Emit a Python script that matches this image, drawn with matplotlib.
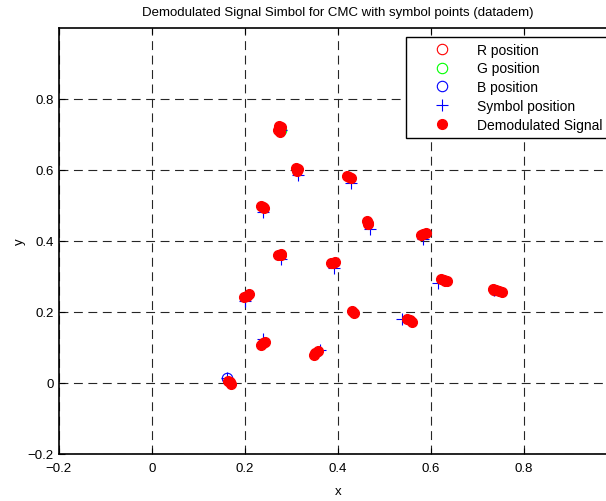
import numpy as np
import matplotlib
matplotlib.use('Agg')
import matplotlib.pyplot as plt

plt.rcParams['font.family'] = ['Liberation Sans', 'DejaVu Sans']

# corner colours (R, G, B) in xy
r_pos = (0.737, 0.263)
g_pos = (0.278, 0.714)
b_pos = (0.163, 0.013)

# symbol points
sym_x = [0.278, 0.314, 0.429, 0.239, 0.469, 0.583, 0.278, 0.392,
         0.616, 0.737, 0.201, 0.433, 0.539, 0.240, 0.361, 0.163]
sym_y = [0.714, 0.585, 0.563, 0.482, 0.435, 0.405, 0.349, 0.325,
         0.283, 0.263, 0.232, 0.199, 0.180, 0.124, 0.094, 0.013]

dem_x = [0.274, 0.278, 0.272, 0.275,
         0.310, 0.315, 0.313,
         0.235, 0.240, 0.242,
         0.419, 0.425, 0.428,
         0.463, 0.466, 0.465,
         0.579, 0.584, 0.589,
         0.271, 0.277, 0.279,
         0.385, 0.390, 0.395,
         0.199, 0.204, 0.209,
         0.235, 0.239, 0.243,
         0.348, 0.352, 0.357,
         0.165, 0.169, 0.171,
         0.622, 0.628, 0.635, 0.631,
         0.733, 0.740, 0.747, 0.753,
         0.431, 0.434,
         0.550, 0.555, 0.559]
dem_y = [0.724, 0.720, 0.712, 0.706,
         0.607, 0.604, 0.598,
         0.498, 0.496, 0.492,
         0.584, 0.581, 0.578,
         0.456, 0.451, 0.447,
         0.417, 0.420, 0.423,
         0.361, 0.363, 0.361,
         0.337, 0.339, 0.341,
         0.242, 0.246, 0.251,
         0.107, 0.112, 0.116,
         0.079, 0.084, 0.090,
         0.007, 0.002, -0.004,
         0.292, 0.290, 0.287, 0.286,
         0.265, 0.263, 0.259, 0.257,
         0.202, 0.197,
         0.181, 0.177, 0.172]

xticks = [-0.2, 0, 0.2, 0.4, 0.6, 0.8]
yticks = [-0.2, 0, 0.2, 0.4, 0.6, 0.8]

fig = plt.figure(figsize=(6.06, 5.02), dpi=100)
ax = fig.add_axes([58.7 / 606, 47 / 502, 558 / 606, 426 / 502])

ax.plot(r_pos[0], r_pos[1], 'o', mfc='none', mec='r', ms=7.5, mew=0.8, label='R position')
ax.plot(g_pos[0], g_pos[1], 'o', mfc='none', mec='#00ff00', ms=7.5, mew=0.8, label='G position')
ax.plot(b_pos[0], b_pos[1], 'o', mfc='none', mec='b', ms=7.5, mew=0.8, label='B position')
ax.plot(sym_x, sym_y, '+', color='b', ms=8, mew=0.8, ls='none', label='Symbol position')
ax.plot(dem_x, dem_y, 'o', color='r', mec='r', ms=7, ls='none', label='Demodulated Signal')

ax.set_xlim(-0.2, 1.0)
ax.set_ylim(-0.2, 1.0)
ax.set_xticks(xticks)
ax.set_yticks(yticks)
ax.set_xticklabels(['\u22120.2', '0', '0.2', '0.4', '0.6', '0.8'])
ax.set_yticklabels(['\u22120.2', '0', '0.2', '0.4', '0.6', '0.8'])
ax.tick_params(direction='in', top=True, right=True, length=4, labelsize=9.5)
ax.tick_params(axis='x', pad=6)
ax.grid(True, color='0.15', lw=0.8, dashes=(8, 5))
for s in ax.spines.values():
    s.set_linewidth(1.2)

ax.set_xlabel('x', fontsize=9.5, labelpad=8)
ax.set_ylabel('y', fontsize=9.5, labelpad=1)
ax.set_title('Demodulated Signal Simbol for CMC with symbol points (datadem)', fontsize=9.5, pad=9)

leg = ax.legend(loc='upper left', bbox_to_anchor=(406 / 606, 1 - 38 / 502),
                bbox_transform=fig.transFigure, fontsize=10, frameon=True,
                fancybox=False, borderaxespad=0, handlelength=4.4,
                handletextpad=0.3, labelspacing=0.35, borderpad=0.4)
leg.get_frame().set_edgecolor('k')
leg.get_frame().set_linewidth(1.0)
leg.get_frame().set_alpha(1)

fig.savefig('out.png', dpi=100)
